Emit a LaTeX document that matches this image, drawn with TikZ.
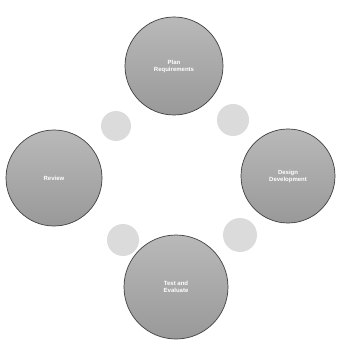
\documentclass[tikz,border=0pt]{standalone}
\usepackage{fontspec}
\setmainfont{Liberation Sans}
\begin{document}
\begin{tikzpicture}[x=1pt,y=-1pt,
  bigball/.style={circle,minimum size=#1,inner sep=0pt,draw=gray!50!black,line width=0.7pt,
    top color=gray!55,bottom color=gray!80,text=white,font=\fontsize{6}{7}\selectfont\bfseries,align=center},
  smallball/.style={circle,minimum size=#1,inner sep=0pt,fill=gray!28}]
\useasboundingbox[fill=white] (0,0) rectangle (344,347);
\node[bigball=98pt] (top) at (174,66) {Plan\\Requirements};
\node[bigball=94pt] (right) at (288,176) {Design\\Development};
\node[bigball=96pt] (left) at (54,178) {Review};
\node[bigball=104pt] (bottom) at (176,287) {Test and\\Evaluate};
\node[smallball=30pt] (s1) at (116,126) {};
\node[smallball=32pt] (s2) at (233,120) {};
\node[smallball=32pt] (s3) at (123,240) {};
\node[smallball=34pt] (s4) at (240,235) {};
\end{tikzpicture}
\end{document}
